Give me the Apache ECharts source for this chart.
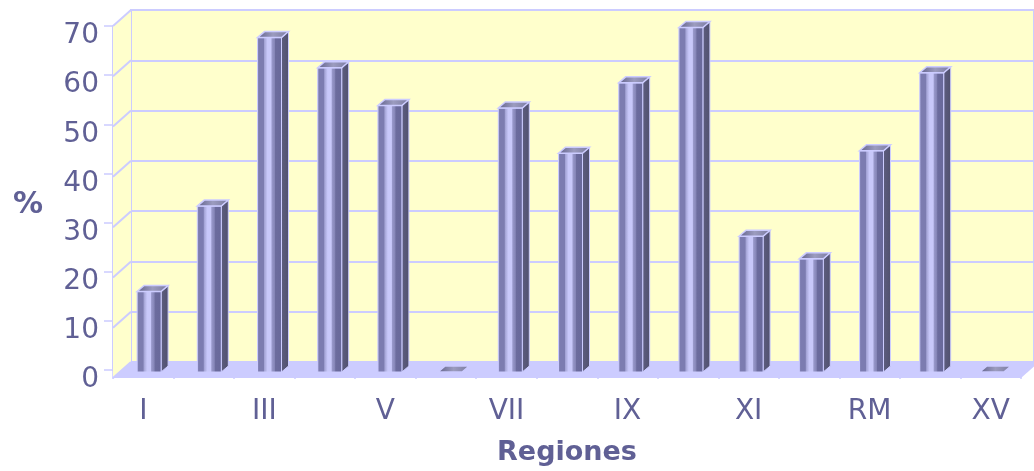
<!DOCTYPE html>
<html>
<head>
<meta charset="utf-8">
<script src="https://cdn.jsdelivr.net/npm/echarts@6/dist/echarts.min.js"></script>
<style>
  html, body { margin: 0; padding: 0; background: #fff; }
  #chart { width: 1034px; height: 471px; }
</style>
</head>
<body>
<div id="chart"></div>
<script>
// datos
const regiones = ["I", "II", "III", "IV", "V", "VI", "VII", "VIII", "IX", "X", "XI", "XII", "RM", "XIV", "XV"];
const porcentajes = [16, 33, 66.5, 60.5, 53, 0, 52.5, 43.5, 57.5, 68.5, 27, 22.5, 44, 59.5, 0];
const yTicks = [0, 10, 20, 30, 40, 50, 60, 70];

// layout: back wall and front axis (3D shift)
const BACK = { left: 131, top: 10, width: 908, height: 352 };
const SHIFT = { dx: -18, dy: 16 };
const FRONT = { left: BACK.left + SHIFT.dx, top: BACK.top + SHIFT.dy, width: BACK.width, height: BACK.height };
const BAR = { dx: -12, dy: 10, w: 24, depthX: 7, depthY: 6 };

const TEXT = "#606095";
const LINE = "#ccccff";
const FONT = "DejaVu Sans";

const chart = echarts.init(document.getElementById("chart"));

const faceGradient = new echarts.graphic.LinearGradient(0, 0, 1, 0, [
  { offset: 0, color: "#9a9acc" },
  { offset: 0.08, color: "#7c7cb0" },
  { offset: 0.26, color: "#7c7cb0" },
  { offset: 0.3, color: "#a4a4d6" },
  { offset: 0.42, color: "#c8c8fa" },
  { offset: 0.56, color: "#c8c8fa" },
  { offset: 0.6, color: "#9898ca" },
  { offset: 0.7, color: "#8686b8" },
  { offset: 0.74, color: "#6c6c9e" },
  { offset: 1, color: "#68689a" }
]);
const sideGradient = new echarts.graphic.LinearGradient(0, 0, 1, 0, [
  { offset: 0, color: "#5e5e80" },
  { offset: 1, color: "#50506e" }
]);
const capGradient = new echarts.graphic.LinearGradient(0, 0, 1, 0, [
  { offset: 0, color: "#60608a" },
  { offset: 0.5, color: "#9c9cbf" },
  { offset: 1, color: "#7a7aa0" }
]);

function renderBar(params, api) {
  const base = api.coord([api.value(0), 0]);
  const top = api.coord([api.value(0), api.value(1)]);
  const x0 = base[0] + BAR.dx - BAR.w / 2;
  const x1 = x0 + BAR.w;
  const yb = base[1] + BAR.dy;
  const yt = top[1] + BAR.dy;
  const ddx = BAR.depthX, ddy = BAR.depthY;
  const children = [];
  if (yb - yt > 0.5) {
    children.push({
      type: "polygon",
      shape: { points: [[x1, yt], [x1 + ddx, yt - ddy], [x1 + ddx, yb - ddy], [x1, yb]] },
      style: { fill: sideGradient, stroke: LINE, lineWidth: 1 }
    });
    children.push({
      type: "rect",
      shape: { x: x0, y: yt, width: BAR.w, height: yb - yt },
      style: { fill: faceGradient, stroke: LINE, lineWidth: 1 }
    });
  }
  children.push({
    type: "polygon",
    shape: { points: [[x0, yt], [x1, yt], [x1 + ddx, yt - ddy], [x0 + ddx, yt - ddy]] },
    style: { fill: capGradient, stroke: LINE, lineWidth: 1.5 }
  });
  return { type: "group", children: children };
}

// walls and floor
function yFront(v) { return FRONT.top + FRONT.height * (1 - v / 70); }
function yBack(v) { return BACK.top + BACK.height * (1 - v / 70); }
const fl = FRONT.left, bl = BACK.left;
const graphics = [
  {
    type: "polygon", z: 1, silent: true,
    shape: { points: [[fl, yFront(70)], [bl, yBack(70)], [bl, yBack(0)], [fl, yFront(0)]] },
    style: { fill: "#ffffcc" }
  },
  {
    type: "polygon", z: 1, silent: true,
    shape: { points: [[fl, yFront(0)], [bl, yBack(0)], [bl + BACK.width, yBack(0)], [fl + FRONT.width, yFront(0)]] },
    style: { fill: "#ccccff" }
  }
];
yTicks.forEach(function (t) {
  graphics.push({
    type: "line", z: 2, silent: true,
    shape: { x1: fl, y1: yFront(t), x2: bl, y2: yBack(t) },
    style: { stroke: LINE, lineWidth: 2 }
  });
});

const option = {
  animation: false,
  textStyle: { fontFamily: FONT },
  grid: [
    Object.assign({ show: true, backgroundColor: "#ffffcc", borderColor: LINE, borderWidth: 2 }, BACK),
    Object.assign({}, FRONT)
  ],
  xAxis: [
    {
      type: "category", gridIndex: 0, data: regiones,
      axisLine: { show: false }, axisTick: { show: false }, axisLabel: { show: false }
    },
    {
      type: "category", gridIndex: 1, data: regiones,
      name: "Regiones", nameLocation: "middle", nameGap: 69,
      nameTextStyle: { color: TEXT, fontSize: 27, fontWeight: "bold", fontFamily: FONT },
      axisLine: { show: true, lineStyle: { color: LINE, width: 2 } },
      axisTick: { show: true, interval: 0, length: 9, lineStyle: { color: LINE, width: 1.5 } },
      axisLabel: { interval: 1, color: TEXT, fontSize: 28, fontFamily: FONT, margin: 28 }
    }
  ],
  yAxis: [
    {
      type: "value", gridIndex: 0, min: 0, max: 70, interval: 10,
      axisLine: { show: false }, axisTick: { show: false }, axisLabel: { show: false },
      splitLine: { show: true, lineStyle: { color: LINE, width: 2 } }
    },
    {
      type: "value", gridIndex: 1, min: 0, max: 70, interval: 10,
      name: "{p|%}", nameLocation: "middle", nameRotate: 0, nameGap: 70,
      nameTextStyle: {
        rich: { p: { color: TEXT, fontSize: 30, fontWeight: "bold", fontFamily: FONT, padding: [14, 0, 0, 0] } }
      },
      axisLine: { show: true, lineStyle: { color: LINE, width: 2 } },
      axisTick: { show: true, length: 9, lineStyle: { color: LINE, width: 1.5 } },
      axisLabel: {
        margin: 14,
        formatter: function (v) { return "{n|" + v + "}"; },
        rich: { n: { color: TEXT, fontSize: 28, fontFamily: FONT, padding: [20, 0, 0, 0] } }
      },
      splitLine: { show: false }
    }
  ],
  graphic: graphics,
  series: [
    {
      type: "custom", xAxisIndex: 0, yAxisIndex: 0, z: 5,
      renderItem: renderBar,
      data: porcentajes.map(function (v, i) { return [i, v]; })
    }
  ]
};

chart.setOption(option);
</script>
</body>
</html>
